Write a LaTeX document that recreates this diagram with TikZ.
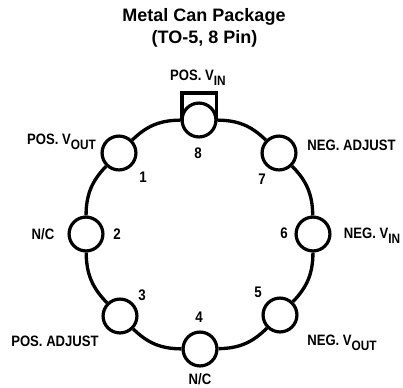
\documentclass[tikz,border=0pt]{standalone}
\usepackage{fontspec}
\setmainfont{Liberation Sans}
\newfontfamily\lblfont[FakeStretch=0.87]{Liberation Sans Bold}
\usepackage{tikz}
\usetikzlibrary{positioning}
\newcommand{\lowsub}[1]{\raisebox{-3.8pt}{\fontsize{10.2}{11}\selectfont #1}}

\begin{document}
\begin{tikzpicture}
  [x=0.75pt, y=-0.75pt,
   pin/.style={circle, draw, line width=2.4pt, minimum size=25.4pt, inner sep=0pt},
   num/.style={inner sep=0pt, font=\lblfont\fontsize{11.5}{13}\selectfont},
   lbl/.style={inner sep=0pt, anchor=base, font=\lblfont\fontsize{11.3}{13}\selectfont},
   ttl/.style={inner sep=0pt, font=\bfseries\fontsize{13.5}{15}\selectfont},
   ring/.style={line width=2.5pt}]
  \useasboundingbox (0,0) rectangle (403,387);

  \node[ttl] (title) at (204,17) {Metal Can Package};
  \node[ttl] (subtitle) at (204.5,39) {(TO-5, 8 Pin)};

  \node[pin] (p8) at (199,120) {};
  \node[pin] (p7) at (279,153) {};
  \node[pin] (p6) at (313,234) {};
  \node[pin] (p5) at (280,315) {};
  \node[pin] (p4) at (200,349) {};
  \node[pin] (p3) at (120,316) {};
  \node[pin] (p2) at (86,234) {};
  \node[pin] (p1) at (119,153) {};

  \draw[ring] (p8) to[bend left=22] (p7);
  \draw[ring] (p7) to[bend left=22] (p6);
  \draw[ring] (p6) to[bend left=22] (p5);
  \draw[ring] (p5) to[bend left=22] (p4);
  \draw[ring] (p4) to[bend left=22] (p3);
  \draw[ring] (p3) to[bend left=22] (p2);
  \draw[ring] (p2) to[bend left=22] (p1);
  \draw[ring] (p1) to[bend left=22] (p8);

  \coordinate (tabl) at (182,121);
  \coordinate (tabtl) at (182,93);
  \coordinate (tabtr) at (216.5,93);
  \coordinate (tabr) at (216.5,121);
  \draw[line width=2.3pt] (tabl) -- (tabtl) -- (tabtr) -- (tabr);

  \node[num] (n8) at (198,153) {8};
  \node[num] (n7) at (262,179) {7};
  \node[num] (n6) at (284,233) {6};
  \node[num] (n5) at (258,292) {5};
  \node[num] (n4) at (199,317) {4};
  \node[num] (n3) at (142,295) {3};
  \node[num] (n2) at (117,234) {2};
  \node[num] (n1) at (143,177) {1};

  \node[lbl] (vin) at (198,80.5) {POS. V\lowsub{IN}};
  \node[lbl] (vout) at (61.5,144.5) {POS. V\lowsub{OUT}};
  \node[lbl] (nc2) at (43,239.5) {N/C};
  \node[lbl] (padj) at (55,346.5) {POS. ADJUST};
  \node[lbl] (nc4) at (200,384.5) {N/C};
  \node[lbl] (nout) at (342,345.5) {NEG. V\lowsub{OUT}};
  \node[lbl] (nvin) at (372,238.5) {NEG. V\lowsub{IN}};
  \node[lbl] (nadj) at (351.5,150.5) {NEG. ADJUST};
\end{tikzpicture}
\end{document}
